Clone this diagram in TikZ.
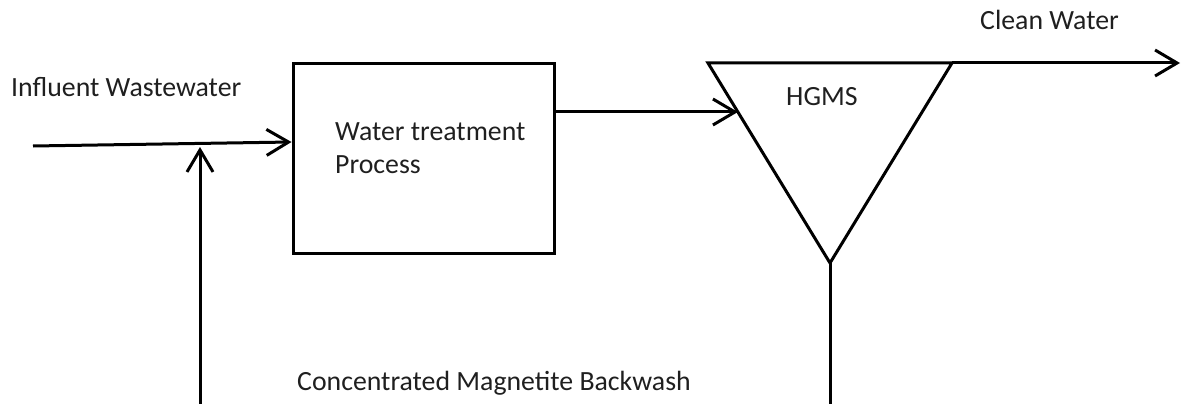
\documentclass[tikz,border=0pt]{standalone}
\usepackage{fontspec}
\setmainfont{Carlito}
\usetikzlibrary{arrows.meta,calc}
\begin{document}
\begin{tikzpicture}[x=1pt,y=-1pt,
  lw/.style={line width=3pt},
  flow/.style={lw,-{Straight Barb[length=22pt,width=26pt]}},
  lbl/.style={inner sep=0pt,anchor=base west,font=\fontsize{27.8}{33}\selectfont,text=black!88},
  boxstyle/.style={draw,lw,minimum width=261pt,minimum height=189pt,inner sep=0pt}]
\useasboundingbox (0,0) rectangle (1183,404);
% process box
\node[boxstyle] (proc) at (423.5,158.5) {};
\node[lbl] (pt1) at (335,140) {Water treatment};
\node[lbl] (pt2) at (335,173) {Process};
% HGMS triangle
\coordinate (tl) at (708,63);
\coordinate (tr) at (952,63);
\coordinate (tb) at (830,263);
\draw[lw,line join=miter] (tl) -- (tr) -- (tb) -- cycle;
\node[lbl] (hg) at (786,105) {HGMS};
\coordinate (hin) at ($(tl)!0.245!(tb)$);
% labels
\node[lbl] (inf) at (11,96) {Influent Wastewater};
\node[lbl] (cw) at (980,30) {Clean Water};
\node[lbl] (cmb) at (297,390) {Concentrated Magnetite Backwash};
% flows
\coordinate (in0) at (33,146);
\draw[flow] (in0) -- ([yshift=16.5pt]proc.west);
\draw[flow] (proc.east |- hin) -- (hin);
\coordinate (cwEnd) at (1180,63);
\draw[flow] (tr) -- (cwEnd);
\coordinate (bwEnd) at (830,410);
\draw[lw] (tb) -- (bwEnd);
\coordinate (fbStart) at (200,410);
\coordinate (fbEnd) at (200,147);
\draw[flow] (fbStart) -- (fbEnd);
\end{tikzpicture}
\end{document}
